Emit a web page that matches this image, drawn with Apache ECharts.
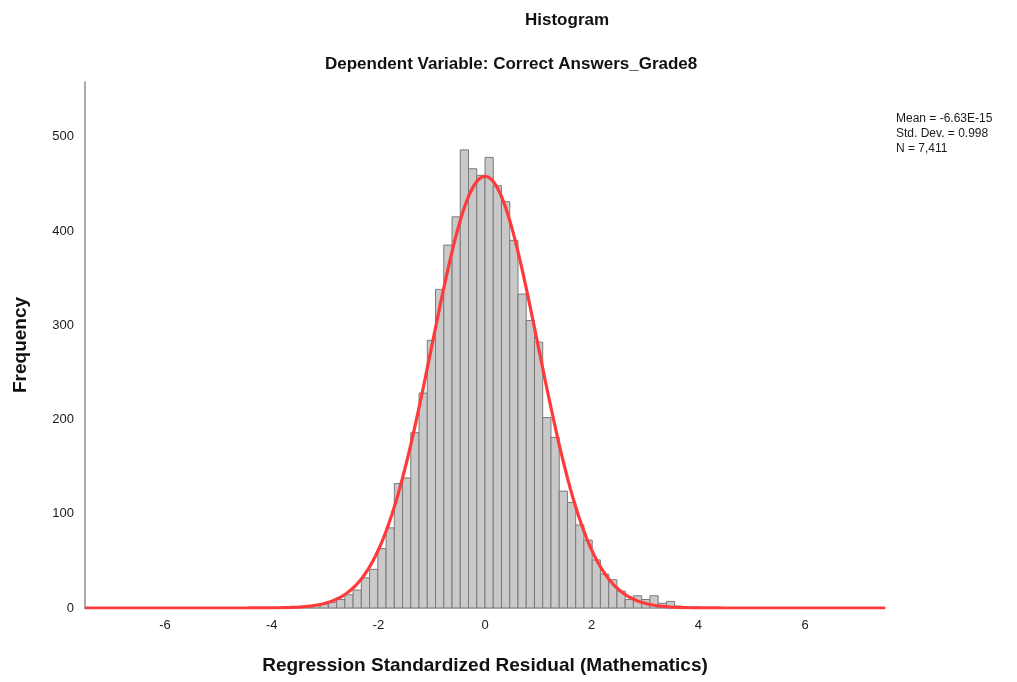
<!DOCTYPE html>
<html>
<head>
<meta charset="utf-8">
<title>Histogram</title>
<script src="https://cdn.jsdelivr.net/npm/echarts@6/dist/echarts.min.js"></script>
<style>
  html, body { margin: 0; padding: 0; background: #ffffff; }
  #chart { width: 1017px; height: 682px; }
</style>
</head>
<body>
<div id="chart"></div>
<script>
// Histogram bins: equal width, the first bin starts at binStart
const binWidth = 0.1546;
const binStart = -25 * 0.1546;
const binCounts = [
  1, 1, 1, 2, 3, 4, 6, 9, 14, 19,
  32, 41, 63, 85, 132, 138, 186, 228, 284, 338,
  385, 415, 486, 466, 459, 478, 448, 431, 390, 333,
  305, 282, 202, 181, 124, 112, 88, 72, 51, 36,
  30, 18, 9, 13, 9, 13, 5, 7, 2, 1,
  1
];

// Summary statistics shown beside the plot
const statMean = -6.63e-15;
const statStdDev = 0.998;
const statN = 7411;
const statLabels = ['Mean = -6.63E-15', 'Std. Dev. = 0.998', 'N = 7,411'];

// Axis ranges and tick labels
const xRange = [-7.5, 7.5];
const xTickValues = [-6, -4, -2, 0, 2, 4, 6];
const yRange = [0, 558];
const yTickStep = 100;

const titleText = 'Histogram';
const subtitleText = 'Dependent Variable: Correct Answers_Grade8';
const xAxisTitle = 'Regression Standardized Residual (Mathematics)';
const yAxisTitle = 'Frequency';

// Bars as [left edge, right edge, count]
const barData = binCounts.map((c, i) => [
  binStart + i * binWidth,
  binStart + (i + 1) * binWidth,
  c
]);

// Normal curve scaled to the histogram: N * binWidth * density(x)
const curveData = [];
for (let k = 0; k <= 300; k++) {
  const x = xRange[0] + (xRange[1] - xRange[0]) * k / 300;
  const z = (x - statMean) / statStdDev;
  const y = statN * binWidth / (statStdDev * Math.sqrt(2 * Math.PI)) * Math.exp(-0.5 * z * z);
  curveData.push([x, y]);
}

const FONT = '"Liberation Sans", Arial, sans-serif';
const chart = echarts.init(document.getElementById('chart'), null, { renderer: 'canvas' });

chart.setOption({
  animation: false,
  backgroundColor: '#ffffff',
  grid: { left: 85, right: 132, top: 82, bottom: 74, containLabel: false },
  xAxis: {
    type: 'value',
    min: xRange[0],
    max: xRange[1],
    axisLine: { show: true, onZero: false, lineStyle: { color: '#8c8c8c', width: 1.5 } },
    axisTick: { show: false },
    splitLine: { show: false },
    axisLabel: {
      customValues: xTickValues,
      color: '#1a1a1a',
      fontFamily: FONT,
      fontSize: 13,
      margin: 11
    },
    name: xAxisTitle,
    nameLocation: 'middle',
    nameGap: 48,
    nameTextStyle: { fontFamily: FONT, fontSize: 19, fontWeight: 'bold', color: '#111' }
  },
  yAxis: {
    type: 'value',
    min: yRange[0],
    max: yRange[1],
    interval: yTickStep,
    axisLine: { show: true, onZero: false, lineStyle: { color: '#8c8c8c', width: 1.5 } },
    axisTick: { show: false },
    splitLine: { show: false },
    axisLabel: {
      color: '#1a1a1a',
      fontFamily: FONT,
      fontSize: 13,
      margin: 11,
      showMaxLabel: false
    },
    name: yAxisTitle,
    nameLocation: 'middle',
    nameRotate: 90,
    nameGap: 55,
    nameTextStyle: { fontFamily: FONT, fontSize: 19, fontWeight: 'bold', color: '#111' }
  },
  graphic: [
    {
      type: 'text', left: 585 - 60, top: 12,
      style: { text: titleText, fontFamily: FONT, fontSize: 17, fontWeight: 'bold', fill: '#111', width: 120, align: 'center' }
    },
    {
      type: 'text', left: 585 - 260, top: 56,
      style: { text: subtitleText, fontFamily: FONT, fontSize: 17, fontWeight: 'bold', fill: '#111', width: 520, align: 'center' }
    },
    {
      type: 'text', left: 896, top: 111,
      style: { text: statLabels.join('\n'), fontFamily: FONT, fontSize: 12, lineHeight: 15, fill: '#1a1a1a' }
    }
  ],
  series: [
    {
      type: 'custom',
      data: barData,
      encode: { x: [0, 1], y: 2 },
      clip: true,
      renderItem: function (params, api) {
        const p0 = api.coord([api.value(0), api.value(2)]);
        const p1 = api.coord([api.value(1), 0]);
        return {
          type: 'rect',
          shape: { x: p0[0], y: p0[1], width: p1[0] - p0[0], height: p1[1] - p0[1] },
          style: { fill: '#c9c9c9', stroke: '#7a7a7a', lineWidth: 1 }
        };
      },
      z: 2
    },
    {
      type: 'line',
      data: curveData,
      showSymbol: false,
      smooth: false,
      clip: true,
      lineStyle: { color: '#ff3a3a', width: 3.2 },
      z: 3
    }
  ]
});
</script>
</body>
</html>
